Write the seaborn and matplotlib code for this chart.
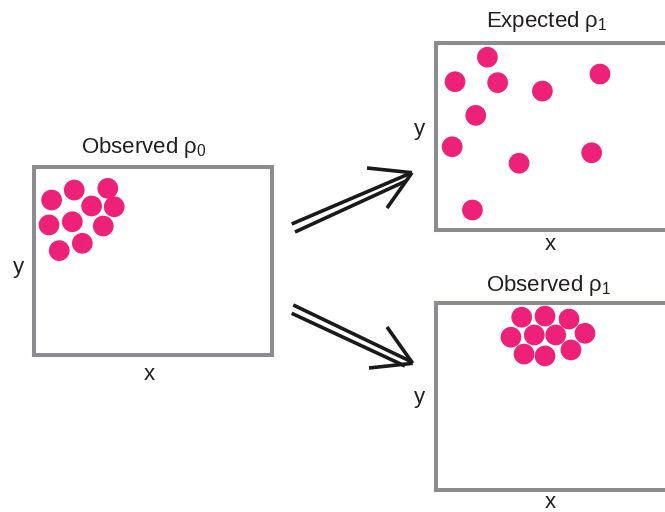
# Observed vs expected particle density sketch

import pandas as pd
import matplotlib.pyplot as plt
import seaborn as sns

# particle positions (box units 0-100, y up)
obs0_x = [7.4, 16.9, 31.0, 24.2, 33.7, 6.3, 16.1, 29.1, 10.6, 20.3]
obs0_y = [82.4, 87.7, 88.6, 79.2, 78.8, 69.1, 70.8, 68.5, 55.4, 59.3]

exp1_x = [21.6, 8.0, 25.9, 44.7, 68.9, 16.7, 6.8, 34.9, 65.4, 15.3]
exp1_y = [92.4, 79.3, 78.8, 74.3, 83.4, 61.3, 44.5, 35.7, 41.3, 10.7]

obs1_x = [36.0, 45.8, 55.9, 31.5, 41.3, 50.3, 62.6, 37.0, 45.8, 56.7]
obs1_y = [92.4, 93.0, 91.4, 81.7, 82.9, 82.9, 83.8, 72.7, 71.7, 74.9]

titles = ["Observed ρ$_0$", "Expected ρ$_1$", "Observed ρ$_1$"]

PINK = "#EE2178"
GRAY = "#8C8C90"
TXT = "#231F20"
W, H = 665, 512

sns.set_style("white")
plt.rcParams["font.family"] = ["Liberation Sans", "DejaVu Sans"]
plt.rcParams["mathtext.fontset"] = "custom"
plt.rcParams["mathtext.rm"] = "Liberation Sans"
plt.rcParams["mathtext.default"] = "regular"

fig = plt.figure(figsize=(W / 100, H / 100), dpi=100)


def px_axes(left, top, width, height):
    return fig.add_axes([left / W, 1 - (top + height) / H, width / W, height / H])


panels = [
    # (box left, top, width, height), x, y, title pos, y-label pos, x-label pos
    ((34, 167, 238, 187.5), obs0_x, obs0_y, (144, 147), (18, 268), (149, 375)),
    ((436, 43, 238, 187), exp1_x, exp1_y, (547, 22), (419, 130), (550, 244)),
    ((436, 303, 238, 187), obs1_x, obs1_y, (549, 285), (419, 398), (550, 502)),
]

for (box, xs, ys, tpos, ylpos, xlpos), title in zip(panels, titles):
    ax = px_axes(*box)
    df = pd.DataFrame({"x": xs, "y": ys})
    sns.scatterplot(data=df, x="x", y="y", ax=ax, s=222, color=PINK,
                    edgecolor="none", linewidth=0, legend=False)
    ax.set_xlim(0, 100)
    ax.set_ylim(0, 100)
    ax.set_xticks([])
    ax.set_yticks([])
    ax.set_xlabel("")
    ax.set_ylabel("")
    for sp in ax.spines.values():
        sp.set_visible(True)
        sp.set_color(GRAY)
        sp.set_linewidth(2.9)
    fig.text(tpos[0] / W, 1 - tpos[1] / H, title, ha="center", va="center",
             fontsize=16, color=TXT)
    fig.text(ylpos[0] / W, 1 - ylpos[1] / H, "y", ha="center", va="center",
             fontsize=16, color=TXT)
    fig.text(xlpos[0] / W, 1 - xlpos[1] / H, "x", ha="center", va="center",
             fontsize=16, color=TXT)

# double-line arrows in pixel space
over = fig.add_axes([0, 0, 1, 1], facecolor="none")
over.set_xlim(0, W)
over.set_ylim(H, 0)
over.axis("off")

arrows = [
    # shaft 1, shaft 2, head line a, head line b
    ([(291.7, 224), (411, 173)], [(295, 232), (406, 181)],
     [(367, 168), (412, 172.7)], [(387, 208), (412, 172.7)]),
    ([(293.3, 305), (412, 362)], [(291.7, 313.3), (405, 366)],
     [(387, 327), (412.7, 363.3)], [(369, 368), (412.7, 363.3)]),
]
for parts in arrows:
    for seg in parts:
        (x0, y0), (x1, y1) = seg
        over.plot([x0, x1], [y0, y1], color="#1a1a1a", lw=2.6,
                  solid_capstyle="butt")

fig.savefig("out.png", dpi=100)
